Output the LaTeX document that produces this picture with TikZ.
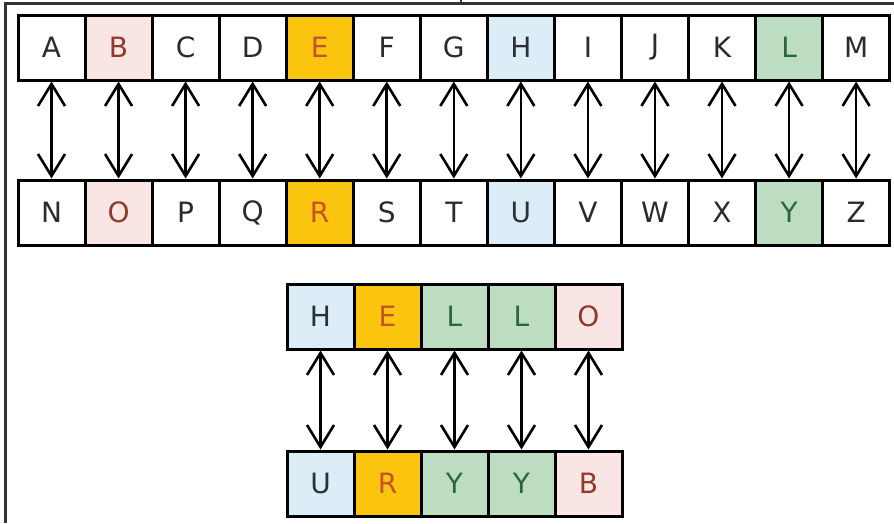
\documentclass[tikz,border=0pt]{standalone}
\usepackage{fontspec}
\newfontfamily\cellfont{DejaVu Sans}
\usetikzlibrary{arrows.meta}
\definecolor{pinkf}{HTML}{F9E6E4}
\definecolor{pinkt}{HTML}{8E3A2C}
\definecolor{yelf}{HTML}{FBC40E}
\definecolor{yelt}{HTML}{C4532A}
\definecolor{bluef}{HTML}{DCEDF8}
\definecolor{bluet}{HTML}{2A3138}
\definecolor{grnf}{HTML}{BCDDC2}
\definecolor{grnt}{HTML}{2D6638}
\definecolor{txt}{HTML}{2B2B2B}
\definecolor{frame}{HTML}{333333}
\tikzset{
  cell/.style={draw=black, line width=3pt, minimum width=67pt, minimum height=65pt,
    inner sep=0pt, font=\cellfont\fontsize{28}{28}\selectfont, text=txt, fill=white},
  pk/.style={fill=pinkf, text=pinkt},
  yl/.style={fill=yelf, text=yelt},
  bl/.style={fill=bluef, text=bluet},
  gr/.style={fill=grnf, text=grnt},
  dbl/.style={line width=2.6pt, black, {Straight Barb[length=22pt,width=27pt,line width=2.6pt]}-{Straight Barb[length=22pt,width=27pt,line width=2.6pt]}},
  framel/.style={line width=3pt, frame}
}
\begin{document}
\begin{tikzpicture}[x=1pt,y=-1pt]
\useasboundingbox (0,0) rectangle (894,523);
\fill[white] (0,0) rectangle (894,523);
\coordinate (fa) at (5,523);
\coordinate (fb) at (5,3);
\coordinate (fc) at (894,3);
\coordinate (ta) at (461,0);
\coordinate (tb) at (461,3);
\draw[framel] (fa) -- (fb) -- (fc);
\draw[line width=2pt, frame] (ta) -- (tb);
% top alphabet rows
\foreach \L/\M/\s/\i in {A/N//0, B/O/pk/1, C/P//2, D/Q//3, E/R/yl/4, F/S//5, G/T//6, H/U/bl/7, I/V//8, J/W//9, K/X//10, L/Y/gr/11, M/Z//12}{
  \node[cell,\s] (t\i) at ({51.5+67.05*\i},47.5) {\L};
  \node[cell,\s] (b\i) at ({51.5+67.05*\i},212.5) {\M};
}
\foreach \i in {0,...,12}{
  \draw[dbl] (t\i.south) -- (b\i.north);
}
% HELLO
\foreach \L/\M/\s/\i in {H/U/bl/0, E/R/yl/1, L/Y/gr/2, L/Y/gr/3, O/B/pk/4}{
  \node[cell,\s] (h\i) at ({320.5+67*\i},316.5) {\L};
  \node[cell,\s] (u\i) at ({320.5+67*\i},483.5) {\M};
}
\foreach \i in {0,...,4}{
  \draw[dbl] (h\i.south) -- (u\i.north);
}
\end{tikzpicture}
\end{document}
